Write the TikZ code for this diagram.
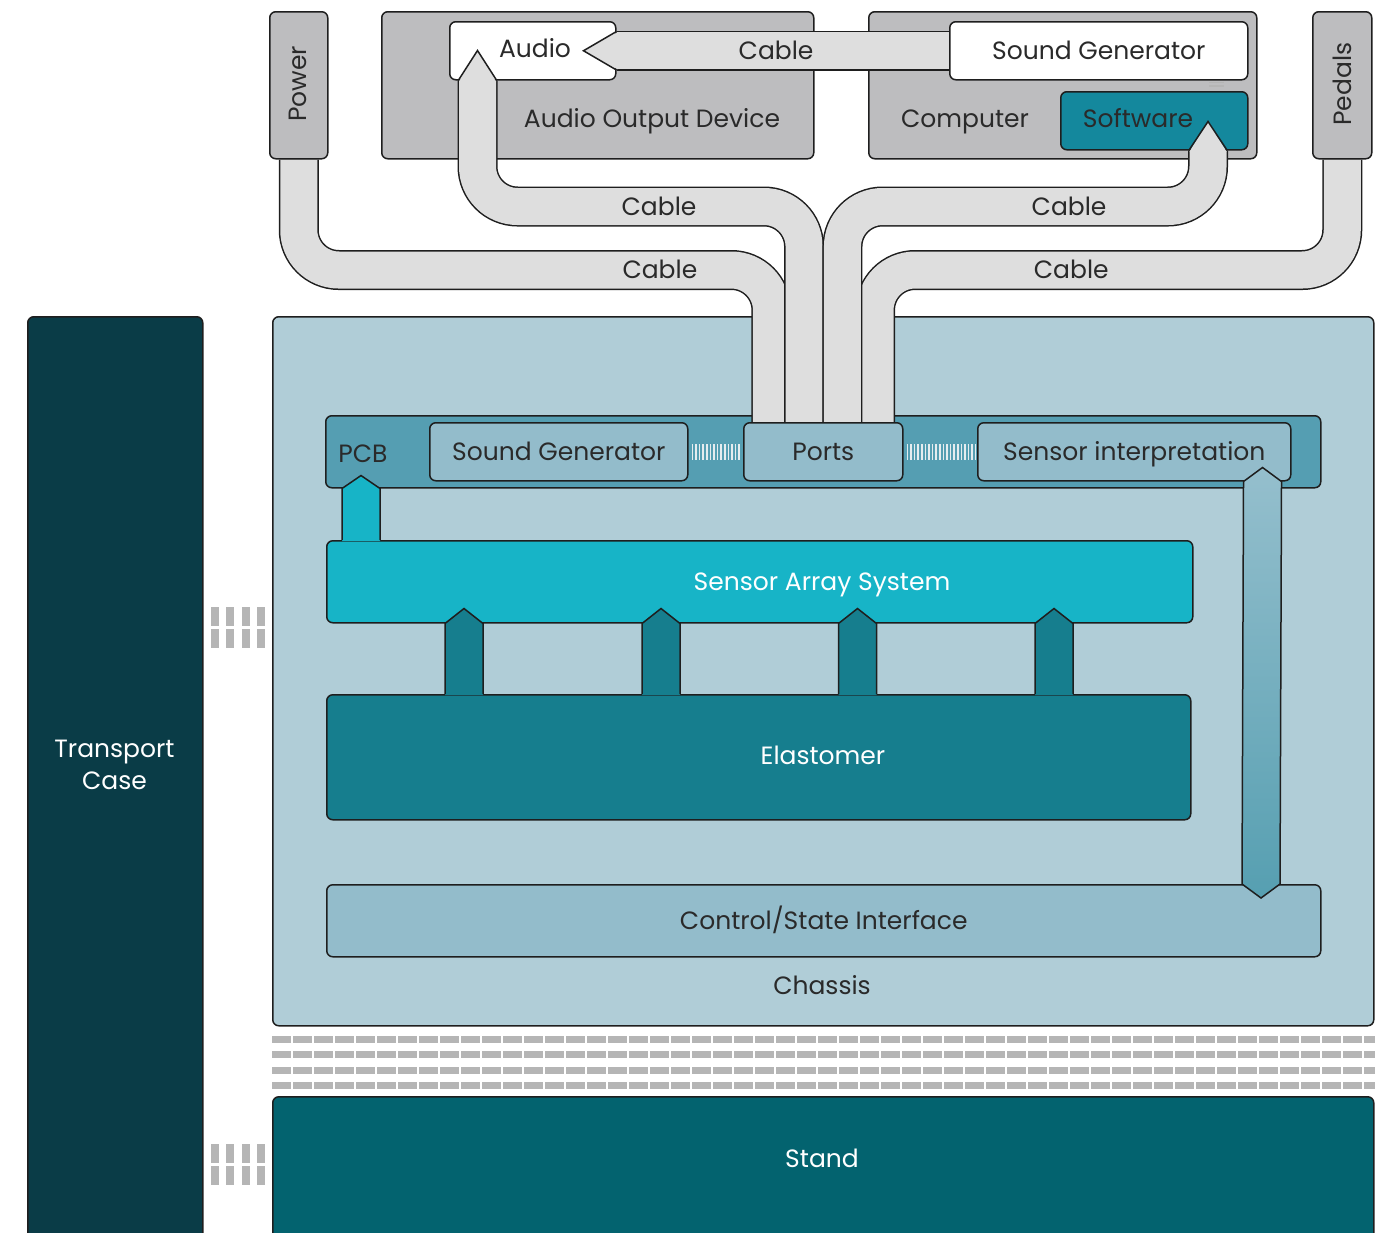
\documentclass[tikz,border=0pt]{standalone}
\usepackage{fontspec}
\setmainfont{Poppins}
\usetikzlibrary{calc}

\definecolor{edgecol}{HTML}{1E1E1E}
\definecolor{inkcol}{HTML}{2A2A2A}
\definecolor{casecol}{HTML}{0A3C47}
\definecolor{chassiscol}{HTML}{B0CDD7}
\definecolor{standcol}{HTML}{03636F}
\definecolor{devicecol}{HTML}{BDBDBF}
\definecolor{cablecol}{HTML}{DEDEDE}
\definecolor{pcbcol}{HTML}{559EB2}
\definecolor{partcol}{HTML}{93BCCB}
\definecolor{arraycol}{HTML}{17B4C7}
\definecolor{elastcol}{HTML}{167E8E}
\definecolor{softcol}{HTML}{14889D}
\definecolor{stripecol}{HTML}{B5B5B5}
\definecolor{linkcol}{HTML}{E4ECEF}
\definecolor{sensetop}{HTML}{95BFCD}
\definecolor{sensebot}{HTML}{569FB1}

\pgfdeclarelayer{front}
\pgfsetlayers{main,front}

\tikzset{
  box/.style={draw=edgecol, line width=0.75pt, rounded corners=3pt, anchor=north west, inner sep=0pt, text=inkcol, text height=0.9em, text depth=0.05em},
  txt/.style={text=inkcol, inner sep=0pt, text height=0.9em, text depth=0.05em},
  cable/.style={draw=edgecol, line width=0.75pt, double=cablecol, double distance=18.5pt, rounded corners=20pt},
  edge/.style={draw=edgecol, line width=0.75pt},
  link/.style={linkcol, line width=8pt, dash pattern=on 0.8pt off 1pt},
  rungs/.style={stripecol, line width=9.5pt, dash pattern=on 4pt off 3.7pt},
  rails/.style={stripecol, line width=3.5pt, dash pattern=on 9.5pt off 1pt},
}

\begin{document}
\begin{tikzpicture}[x=0.5pt, y=-0.5pt, every node/.style={font=\fontsize{12.5}{16}\selectfont}]
\useasboundingbox (0,0) rectangle (1379,1232);

% case, chassis and stand
\node[box, fill=casecol, minimum width=87.5pt, minimum height=467pt] (case) at (27,316) {};
\node[text=white, inner sep=0pt, align=center] (caselbl) at (114.5,765) {Transport\\Case};
\node[box, fill=chassiscol, minimum width=550.5pt, minimum height=354.5pt] (chassis) at (272,316) {};
\node[txt] (chassislbl) at (822,986) {Chassis};
\node[box, fill=standcol, minimum width=550.5pt, minimum height=77pt] (stand) at (272,1096) {};
\node[txt, text=white] (standlbl) at (822,1159) {Stand};

\foreach \dy in {6.25,13.75,21.75,29.5}
  \draw[rails] ([yshift=-\dy pt]chassis.south west) -- ([yshift=-\dy pt]chassis.south east);
\foreach \dy in {150.25,161.25}
  \draw[rungs] ([shift={(-30.5pt,-\dy pt)}]chassis.north west) -- ++(27.25pt,0);
\foreach \dy in {28.5,39.5}
  \draw[rungs] ([shift={(-30.5pt,-\dy pt)}]stand.north west) -- ++(27.25pt,0);

% devices on top
\node[box, fill=devicecol, minimum width=216pt, minimum height=73.5pt] (aod) at (381,11) {};
\node[txt] (aodlbl) at (652,119) {Audio Output Device};
\node[box, fill=devicecol, minimum width=194pt, minimum height=73.5pt] (computer) at (868,11) {};
\node[txt] (computerlbl) at (965,119) {Computer};
\node[box, fill=white, minimum width=83pt, minimum height=29pt] (audio) at (449,21) {};
\node[txt] (audiolbl) at (535,49) {Audio};
\node[box, fill=softcol, minimum width=93.5pt, minimum height=29pt] (software) at (1060,91) {};
\node[txt] (softlbl) at (1138,119) {Software};

% inside the chassis
\node[box, fill=pcbcol, minimum width=497.5pt, minimum height=36pt] (pcb) at (325,415) {};
\node[txt] (pcblbl) at (363,454) {PCB};
\node[box, fill=partcol, minimum width=129pt, minimum height=29pt] (sgpcb) at (429,422) {Sound Generator};
\node[box, fill=partcol, minimum width=156.5pt, minimum height=29pt] (sensint) at (977,422) {Sensor interpretation};
\node[box, fill=arraycol, minimum width=433pt, minimum height=41pt] (array) at (326,540) {};
\node[txt, text=white] (arraylbl) at (822,582) {Sensor Array System};
\node[box, fill=elastcol, minimum width=432pt, minimum height=62.5pt] (elastomer) at (326,694) {};
\node[txt, text=white] (elastlbl) at (823,756) {Elastomer};
\node[box, fill=partcol, minimum width=497pt, minimum height=36pt] (control) at (326,884) {Control/State Interface};

\begin{pgfonlayer}{front}
\node[box, fill=devicecol, minimum width=29pt, minimum height=73.5pt] (power) at (269,11) {};
\node[txt, rotate=90] (powerlbl) at (298,84) {Power};
\node[box, fill=devicecol, minimum width=29.5pt, minimum height=73.5pt] (pedals) at (1312,11) {};
\node[txt, rotate=90] (pedalslbl) at (1343,84) {Pedals};
\node[box, fill=white, minimum width=149pt, minimum height=29pt] (sgtop) at (949,21) {Sound Generator};
\node[box, fill=partcol, minimum width=79.5pt, minimum height=29pt] (ports) at (743,422) {Ports};
\end{pgfonlayer}

% cables
\draw[cable] (power.south) -- ++(0,110.5) -| node[pos=0.382, txt]{Cable} ([xshift=-25.9pt]ports.north);
\draw[cable] (pedals.south) -- ++(0,110.5) -| node[pos=0.29, txt]{Cable} ([xshift=25.9pt]ports.north);
\draw[cable] ([xshift=14.25pt]audio.south west) -- ++(0,126) -| node[pos=0.278, txt]{Cable} ([xshift=-9.6pt]ports.north);
\draw[cable] ([xshift=74pt]software.south west) -- ++(0,56) -| node[pos=0.19, txt]{Cable} ([xshift=9.6pt]ports.north);
\draw[cable] (sgtop.west) -- node[pos=0.52, txt]{Cable} (audio.east);

% cable heads
\fill[cablecol] ($(audio.east)+(1,-18.5)$) -- ($(audio.east)+(-33,0)$) -- ($(audio.east)+(1,18.5)$) -- cycle;
\draw[edge] ($(audio.east)+(0,-19.25)$) -- ($(audio.east)+(-33,0)$) -- ($(audio.east)+(0,19.25)$);
\coordinate (audioin) at ([xshift=14.25pt]audio.south west);
\fill[cablecol] ($(audioin)+(-18.5,1)$) -- ($(audioin)+(0,-30)$) -- ($(audioin)+(18.5,1)$) -- cycle;
\draw[edge] ($(audioin)+(-19.25,0)$) -- ($(audioin)+(0,-30)$) -- ($(audioin)+(19.25,0)$);
\coordinate (softin) at ([xshift=74pt]software.south west);
\fill[cablecol] ($(softin)+(-18.5,1)$) -- ($(softin)+(0,-29)$) -- ($(softin)+(18.5,1)$) -- cycle;
\draw[edge] ($(softin)+(-19.25,0)$) -- ($(softin)+(0,-29)$) -- ($(softin)+(19.25,0)$);

% links
\draw[stripecol, line width=7.5pt, dash pattern=on 0.75pt off 1pt, shorten <=0.5pt, shorten >=1.5pt]
  ([xshift=-16.25pt]sgtop.south east) -- ([xshift=-16.25pt]software.north east);
\draw[link] ([xshift=1.5pt]sgpcb.east) -- ([xshift=-1pt]ports.west);
\draw[link] ([xshift=1.5pt]ports.east) -- ([xshift=-1pt]sensint.west);

% elastomer to sensor array
\foreach \dx in {69,167.5,265.75,364} {
  \coordinate (eb) at ([xshift=\dx pt]elastomer.north west);
  \coordinate (et) at ([xshift=\dx pt]array.south west);
  \fill[elastcol] ($(eb)+(-19,1)$) -- ($(et)+(-19,0)$) -- ($(et)+(0,-15)$) -- ($(et)+(19,0)$) -- ($(eb)+(19,1)$) -- cycle;
  \draw[edge] ($(eb)+(-19,0)$) -- ($(et)+(-19,0)$) -- ($(et)+(0,-15)$) -- ($(et)+(19,0)$) -- ($(eb)+(19,0)$);
}

% sensor array to pcb
\coordinate (ab) at ([xshift=17.5pt]array.north west);
\coordinate (at) at ([xshift=18pt]pcb.south west);
\fill[arraycol] ($(ab)+(-19,1)$) -- ($(at)+(-19,0)$) -- ($(at)+(0,-13)$) -- ($(at)+(19,0)$) -- ($(ab)+(19,1)$) -- cycle;
\draw[edge] ($(ab)+(-19,0)$) -- ($(at)+(-19,0)$) -- ($(at)+(0,-13)$) -- ($(at)+(19,0)$) -- ($(ab)+(19,0)$);

% sensor interpretation <-> control
\coordinate (st) at ([xshift=-14.5pt]sensint.south east);
\coordinate (sb) at ([xshift=467.5pt]control.north west);
\shade[top color=sensetop, bottom color=sensebot] ($(st)+(-19,0)$) -- ($(st)+(0,-14)$) -- ($(st)+(19,0)$) -- ($(sb)+(19,0)$) -- ($(sb)+(0,14)$) -- ($(sb)+(-19,0)$) -- cycle;
\draw[edge] ($(st)+(-19,0)$) -- ($(st)+(0,-14)$) -- ($(st)+(19,0)$) -- ($(sb)+(19,0)$) -- ($(sb)+(0,14)$) -- ($(sb)+(-19,0)$) -- cycle;
\end{tikzpicture}
\end{document}
